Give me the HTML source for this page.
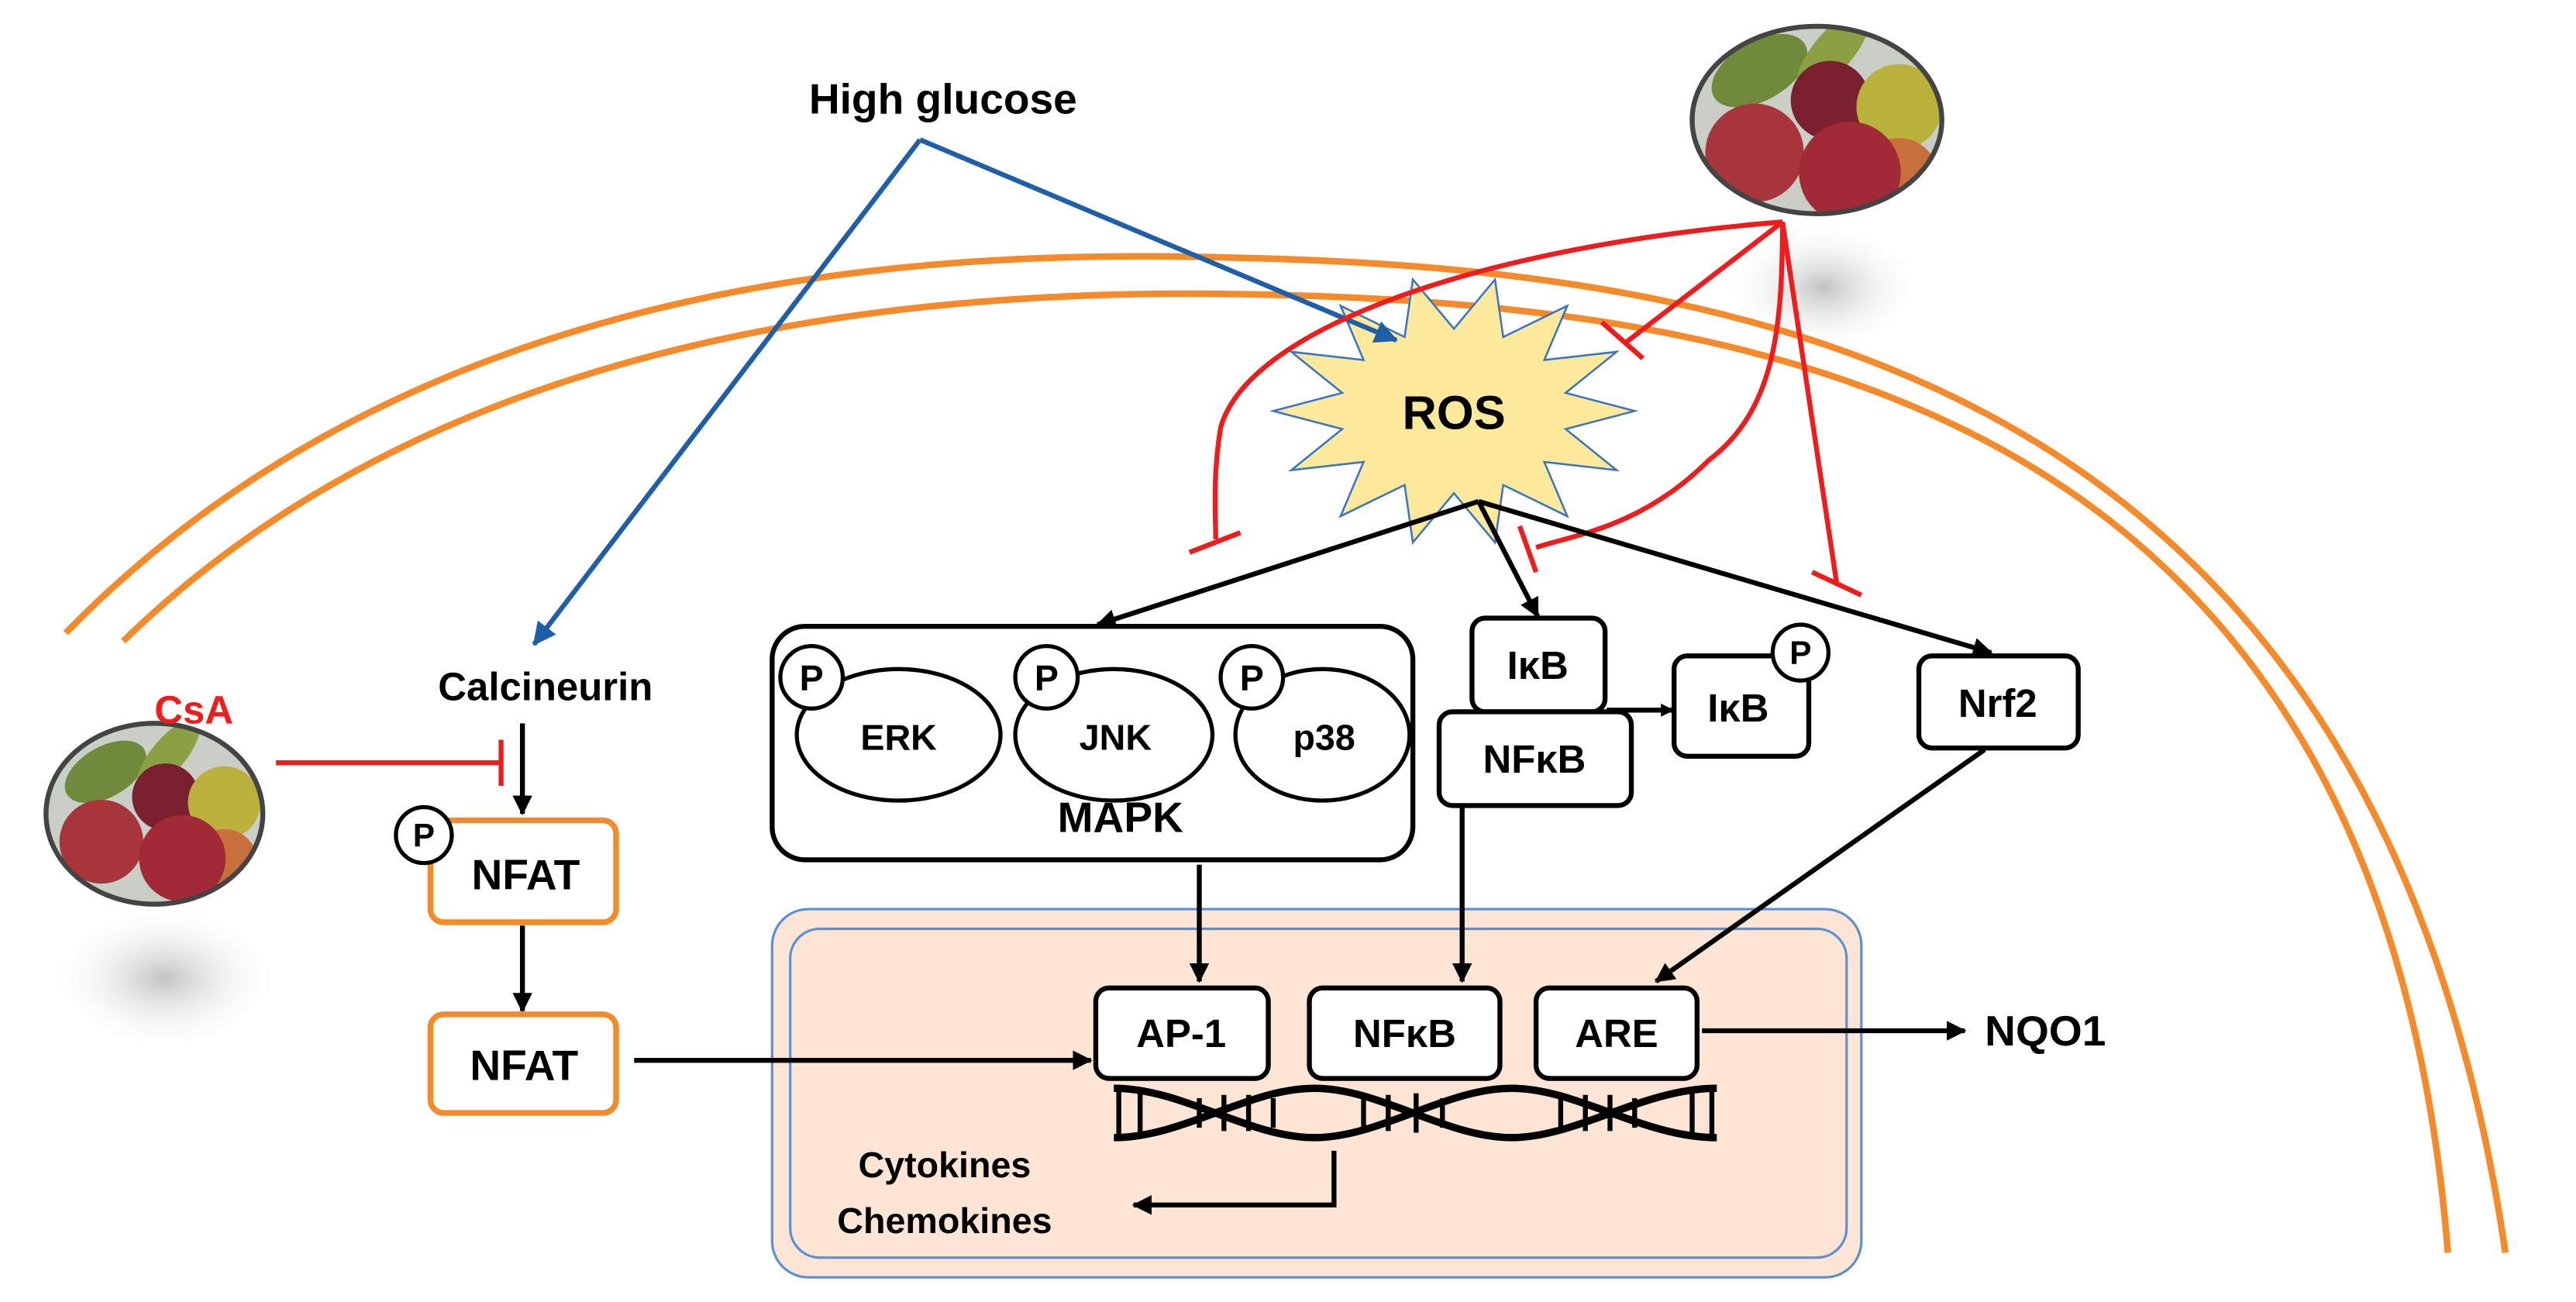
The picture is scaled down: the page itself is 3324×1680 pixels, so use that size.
<!DOCTYPE html>
<html><head><meta charset="utf-8"><style>
html,body{margin:0;padding:0;background:#fff;}
svg{display:block;}
text{font-family:"Liberation Sans",Arial,sans-serif;font-weight:bold;}
</style></head><body>
<svg width="3324" height="1680" viewBox="0 0 1568 792" preserveAspectRatio="none" xmlns="http://www.w3.org/2000/svg">
<defs>
<marker id="ab" markerWidth="8" markerHeight="8" refX="7" refY="4" orient="auto" markerUnits="userSpaceOnUse" viewBox="0 0 8 8"><path d="M0,0 L8,4 L0,8 z" fill="#000"/></marker>
<marker id="ab2" markerWidth="12" markerHeight="12" refX="11" refY="6" orient="auto" markerUnits="userSpaceOnUse" viewBox="0 0 12 12"><path d="M0,0 L12,6 L0,12 z" fill="#000"/></marker>
<marker id="abl" markerWidth="14" markerHeight="14" refX="13" refY="7" orient="auto" markerUnits="userSpaceOnUse" viewBox="0 0 14 14"><path d="M0,0 L14,7 L0,14 z" fill="#1f5fa8"/></marker>
<radialGradient id="sh"><stop offset="0" stop-color="#999" stop-opacity="0.6"/><stop offset="1" stop-color="#fff" stop-opacity="0"/></radialGradient>
<clipPath id="c1"><ellipse cx="1106" cy="73" rx="76" ry="57"/></clipPath>
<clipPath id="c2"><ellipse cx="94" cy="495" rx="66" ry="55"/></clipPath>
<g id="fruit">
<rect x="-80" y="-70" width="160" height="140" fill="#c9cfc6"/>
<ellipse cx="-35" cy="-30" rx="32" ry="18" fill="#6f8a3a" transform="rotate(-30 -35 -30)"/>
<ellipse cx="10" cy="-42" rx="32" ry="12" fill="#8aa043" transform="rotate(-50 10 -42)"/>
<circle cx="8" cy="-12" r="24" fill="#7a1f2e"/>
<circle cx="50" cy="-8" r="26" fill="#b9b13c"/>
<circle cx="-38" cy="20" r="30" fill="#a8343c"/>
<circle cx="50" cy="35" r="24" fill="#c8703c"/>
<circle cx="20" cy="32" r="31" fill="#a22a36"/>
</g>
</defs>

<ellipse cx="100" cy="595" rx="70" ry="45" fill="url(#sh)"/>
<ellipse cx="1110" cy="175" rx="60" ry="40" fill="url(#sh)"/>

<path d="M40,385 C250,170 550,150 760,157 C1100,165 1450,250 1525,762" fill="none" stroke="#f58a2a" stroke-width="4"/>
<path d="M75,390 C270,200 560,175 760,179 C1100,185 1450,260 1490,762" fill="none" stroke="#f58a2a" stroke-width="4"/>

<rect x="470" y="553" width="663" height="224" rx="22" fill="#fde5d6" stroke="#5b8fd6" stroke-width="1.5"/>
<rect x="481" y="565" width="643" height="200" rx="18" fill="none" stroke="#5b8fd6" stroke-width="1.5"/>

<g clip-path="url(#c1)"><g transform="translate(1106,73)"><use href="#fruit"/></g></g>
<ellipse cx="1106" cy="73" rx="76" ry="57" fill="none" stroke="#444" stroke-width="3"/>
<g clip-path="url(#c2)"><g transform="translate(94,495) scale(0.85,0.85)"><use href="#fruit"/></g></g>
<ellipse cx="94" cy="495" rx="66" ry="55" fill="none" stroke="#444" stroke-width="3"/>

<polygon points="995,250 953,261 984,286 940,281 954,314 915,295 910,330 885,300 860,330 855,295 816,314 830,281 786,286 817,261 775,250 817,239 786,214 830,219 816,186 855,205 860,170 885,200 910,170 915,205 954,186 940,219 984,214 953,239" fill="#fde99c" stroke="#3a75c4" stroke-width="1.2"/>
<text x="885" y="261" font-size="29" text-anchor="middle">ROS</text>

<text x="574" y="69" font-size="26" text-anchor="middle">High glucose</text>
<line x1="560" y1="85" x2="850" y2="207" stroke="#1f5fa8" stroke-width="3" marker-end="url(#abl)"/>
<line x1="560" y1="85" x2="325" y2="392" stroke="#1f5fa8" stroke-width="3" marker-end="url(#abl)"/>

<g stroke="#ee1c1c" stroke-width="3" fill="none">
<line x1="1062" y1="137" x2="1085" y2="135"/>
<line x1="1085" y1="135" x2="990" y2="208"/>
<line x1="975" y1="196" x2="1000" y2="218"/>
<path d="M1085,135 C900,150 760,200 743,260 C738,290 740,315 740,328"/>
<line x1="724" y1="336" x2="755" y2="324"/>
<path d="M1085,135 C1085,200 1080,250 1040,280 C1000,320 960,325 935,333"/>
<line x1="925" y1="320" x2="935" y2="348"/>
<line x1="1085" y1="135" x2="1118" y2="355"/>
<line x1="1103" y1="348" x2="1133" y2="362"/>
</g>

<g stroke="#000" stroke-width="3" fill="none">
<line x1="900" y1="305" x2="668" y2="380" marker-end="url(#ab2)"/>
<line x1="900" y1="305" x2="936" y2="375" marker-end="url(#ab2)"/>
<line x1="900" y1="305" x2="1212" y2="397" marker-end="url(#ab2)"/>
</g>

<rect x="470" y="381" width="390" height="142" rx="20" fill="#fff" stroke="#000" stroke-width="3"/>
<g fill="#fff" stroke="#000" stroke-width="2.5">
<ellipse cx="547" cy="447" rx="62" ry="40"/>
<ellipse cx="678" cy="447" rx="60" ry="40"/>
<ellipse cx="805" cy="447" rx="53" ry="40"/>
<circle cx="494" cy="412" r="19"/>
<circle cx="637" cy="412" r="19"/>
<circle cx="762" cy="412" r="19"/>
</g>
<g font-size="22" text-anchor="middle">
<text x="494" y="420">P</text><text x="637" y="420">P</text><text x="762" y="420">P</text>
<text x="547" y="456">ERK</text><text x="679" y="456">JNK</text><text x="806" y="456">p38</text>
</g>
<text x="682" y="506" font-size="26" text-anchor="middle">MAPK</text>

<g fill="#fff" stroke="#000" stroke-width="3">
<rect x="896" y="376" width="81" height="57" rx="8"/>
<rect x="876" y="433" width="117" height="57" rx="8"/>
<rect x="1019" y="399" width="82" height="61" rx="8"/>
<rect x="1168" y="399" width="97" height="56" rx="8"/>
</g>
<circle cx="1096" cy="397" r="17" fill="#fff" stroke="#000" stroke-width="2.5"/>
<text x="1096" y="404" font-size="20" text-anchor="middle">P</text>
<g font-size="24" text-anchor="middle">
<text x="936" y="413">IκB</text>
<text x="934" y="470">NFκB</text>
<text x="1058" y="439">IκB</text>
<text x="1216" y="436">Nrf2</text>
</g>
<line x1="978" y1="432" x2="1018" y2="432" stroke="#000" stroke-width="3" marker-end="url(#ab)"/>

<text x="332" y="426" font-size="24" text-anchor="middle">Calcineurin</text>
<text x="118" y="440" font-size="24" text-anchor="middle" fill="#ee1c1c">CsA</text>
<line x1="168" y1="464" x2="305" y2="464" stroke="#ee1c1c" stroke-width="3"/>
<line x1="305" y1="450" x2="305" y2="478" stroke="#ee1c1c" stroke-width="3"/>
<line x1="318" y1="440" x2="318" y2="495" stroke="#000" stroke-width="3" marker-end="url(#ab2)"/>
<rect x="262" y="499" width="113" height="62" rx="8" fill="#fff" stroke="#f58a2a" stroke-width="3.5"/>
<circle cx="258" cy="508" r="17" fill="#fff" stroke="#000" stroke-width="2.5"/>
<text x="258" y="515" font-size="20" text-anchor="middle">P</text>
<text x="320" y="541" font-size="26" text-anchor="middle">NFAT</text>
<line x1="318" y1="563" x2="318" y2="615" stroke="#000" stroke-width="3" marker-end="url(#ab2)"/>
<rect x="262" y="617" width="113" height="60" rx="8" fill="#fff" stroke="#f58a2a" stroke-width="3.5"/>
<text x="319" y="657" font-size="26" text-anchor="middle">NFAT</text>
<line x1="386" y1="645" x2="664" y2="645" stroke="#000" stroke-width="3" marker-end="url(#ab2)"/>

<g stroke="#000" stroke-width="3">
<line x1="730" y1="526" x2="730" y2="597" marker-end="url(#ab2)"/>
<line x1="890" y1="491" x2="890" y2="597" marker-end="url(#ab2)"/>
<line x1="1208" y1="456" x2="1008" y2="597" marker-end="url(#ab2)"/>
</g>

<g fill="#fff" stroke="#000" stroke-width="3">
<rect x="667" y="601" width="105" height="55" rx="8"/>
<rect x="797" y="601" width="116" height="55" rx="8"/>
<rect x="935" y="601" width="98" height="55" rx="8"/>
</g>
<g font-size="24" text-anchor="middle">
<text x="719" y="637">AP-1</text>
<text x="855" y="637">NFκB</text>
<text x="984" y="637">ARE</text>
</g>
<line x1="1036" y1="627" x2="1196" y2="627" stroke="#000" stroke-width="3" marker-end="url(#ab2)"/>
<text x="1245" y="636" font-size="26" text-anchor="middle">NQO1</text>

<g stroke="#000" fill="none">
<path d="M678,662 C720,662 760,692 800,692 C840,692 880,662 920,662 C960,662 1000,692 1045,692" stroke-width="4.5"/>
<path d="M678,692 C720,692 760,662 800,662 C840,662 880,692 920,692 C960,692 1000,662 1045,662" stroke-width="4.5"/>
<g stroke-width="3">
<line x1="681" y1="662" x2="681" y2="692"/><line x1="694" y1="662" x2="694" y2="692"/>
<line x1="730" y1="668" x2="730" y2="686"/><line x1="745" y1="666" x2="745" y2="688"/><line x1="760" y1="666" x2="760" y2="688"/><line x1="775" y1="668" x2="775" y2="686"/>
<line x1="830" y1="668" x2="830" y2="686"/><line x1="845" y1="666" x2="845" y2="688"/><line x1="862" y1="665" x2="862" y2="689"/><line x1="878" y1="668" x2="878" y2="686"/>
<line x1="950" y1="668" x2="950" y2="686"/><line x1="965" y1="666" x2="965" y2="688"/><line x1="980" y1="666" x2="980" y2="688"/><line x1="995" y1="668" x2="995" y2="686"/>
<line x1="1030" y1="662" x2="1030" y2="692"/><line x1="1042" y1="662" x2="1042" y2="692"/>
</g>
</g>

<text x="575" y="716" font-size="22" text-anchor="middle">Cytokines</text>
<text x="575" y="750" font-size="22" text-anchor="middle">Chemokines</text>
<polyline points="812,700 812,733 690,733" fill="none" stroke="#000" stroke-width="3" marker-end="url(#ab2)"/>
</svg>
</body></html>
